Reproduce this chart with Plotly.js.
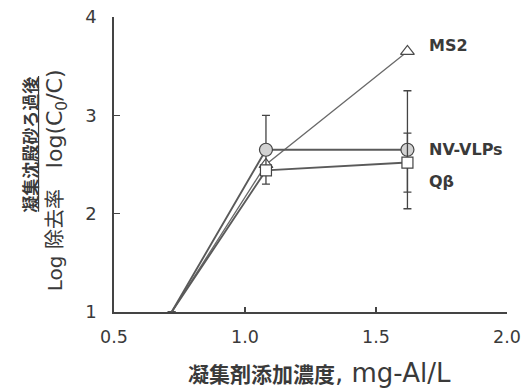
<!DOCTYPE html>
<html>
<head>
<meta charset="utf-8">
<script src="https://cdn.plot.ly/plotly-3.0.1.min.js"></script>
<style>html,body{margin:0;padding:0;background:#fff}</style>
</head>
<body>
<div id="chart" style="width:521px;height:390px"></div>
<script>
// Coagulant dose (mg-Al/L) and log removal after coagulation-sedimentation + sand filtration
const dose = [0.72, 1.08, 1.62];
const ms2 = [1.0, 2.50, 3.65];
const nvVLPs = [1.0, 2.65, 2.65];
const nvVLPsErr = [0, 0.35, 0.6];
const qBeta = [1.0, 2.44, 2.52];
const qBetaErr = [0, 0, 0.3];
const seriesNames = ['MS2', 'NV-VLPs', 'Qβ'];
const xTickVals = [0.5, 1.0, 1.5, 2.0];
const xTickText = ['0.5', '1.0', '1.5', '2.0'];
const yTickVals = [1, 2, 3, 4];
const yTickText = ['1', '2', '3', '4'];

const ink = '#3a3a3a';
const lineGrey = '#5a5a5a';
const latin = '"DejaVu Sans", Arial, sans-serif';
const cjk = '"Noto Sans CJK JP", "DejaVu Sans", sans-serif';
const latinSpan = (txt, size) =>
  '<span style="font-family:\'DejaVu Sans\'' + (size ? ';font-size:' + size + 'px' : '') + '">' + txt + '</span>';
// first point sits on the axis without a marker
const markerOpacity = dose.map((d, i) => (i === 0 ? 0 : 1));

const traces = [
  {
    x: dose, y: ms2, name: seriesNames[0], mode: 'lines+markers',
    line: {color: '#6a6a6a', width: 1.3},
    marker: {symbol: 'triangle-up', size: 12, color: '#ffffff', opacity: markerOpacity,
             line: {color: '#4a4a4a', width: 1.2}},
    cliponaxis: false
  },
  {
    x: dose, y: nvVLPs, name: seriesNames[1], mode: 'lines+markers',
    line: {color: lineGrey, width: 1.9},
    marker: {symbol: 'circle', size: 13, color: '#d2d2d2', opacity: markerOpacity,
             line: {color: '#444', width: 1.2}},
    error_y: {type: 'data', array: nvVLPsErr, visible: true, color: '#444', thickness: 1.3, width: 4},
    cliponaxis: false
  },
  {
    x: dose, y: qBeta, name: seriesNames[2], mode: 'lines+markers',
    line: {color: lineGrey, width: 1.9},
    marker: {symbol: 'square', size: 11, color: '#ffffff', opacity: markerOpacity,
             line: {color: '#444', width: 1.2}},
    error_y: {type: 'data', array: qBetaErr, visible: true, color: '#444', thickness: 1.3, width: 4},
    cliponaxis: false
  }
];

// series labels sit to the right of the last point of each series
const last = dose.length - 1;
const labelShift = [6, 0, -19];
const seriesValues = [ms2, nvVLPs, qBeta];
const seriesLabels = seriesNames.map((name, i) => ({
  x: dose[last], y: seriesValues[i][last], xref: 'x', yref: 'y',
  text: '<b>' + name + '</b>',
  showarrow: false, xanchor: 'left', yanchor: 'middle',
  xshift: 20, yshift: labelShift[i],
  font: {family: latin, size: 16, color: ink}
}));

const layout = {
  width: 521, height: 390,
  margin: {l: 114, r: 14, t: 17, b: 78, pad: 0},
  paper_bgcolor: '#fff', plot_bgcolor: '#fff',
  showlegend: false,
  xaxis: {
    range: [0.5, 2.0], tickvals: xTickVals, ticktext: xTickText,
    ticks: 'inside', ticklen: 5, tickwidth: 1.2, tickcolor: '#444',
    showline: true, linecolor: '#444', linewidth: 1.6,
    showgrid: false, zeroline: false, ticklabelstandoff: 8,
    ticklabeloverflow: 'allow',
    tickfont: {family: latin, size: 17.5, color: ink}
  },
  yaxis: {
    range: [1, 4], tickvals: yTickVals, ticktext: yTickText,
    ticks: 'inside', ticklen: 6, tickwidth: 1.2, tickcolor: '#444',
    showline: true, linecolor: '#444', linewidth: 1.6,
    showgrid: false, zeroline: false, ticklabelstandoff: 12,
    ticklabeloverflow: 'allow',
    tickfont: {family: latin, size: 18, color: ink}
  },
  // underline beneath the first line of the rotated y title
  shapes: [
    {type: 'line', xref: 'paper', yref: 'paper', x0: -0.192, x1: -0.192, y0: 0.34, y1: 0.80,
     line: {color: ink, width: 1.2}}
  ],
  annotations: seriesLabels.concat([
    {
      xref: 'paper', yref: 'paper', x: 0.524, y: -0.207,
      xanchor: 'center', yanchor: 'middle', showarrow: false,
      text: '<b>凝集剤添加濃度</b>' + latinSpan(', mg-Al/L', 26),
      font: {family: cjk, size: 21, color: ink}
    },
    {
      xref: 'paper', yref: 'paper', x: -0.217, y: 0.803,
      xanchor: 'center', yanchor: 'top', textangle: -90, showarrow: false,
      text: '<b>凝集沈殿砂ろ過後</b>',
      font: {family: cjk, size: 17, color: ink}
    },
    {
      xref: 'paper', yref: 'paper', x: -0.15, y: 0.83,
      xanchor: 'center', yanchor: 'top', textangle: -90, showarrow: false,
      text: latinSpan('Log ', 20) + '除去率' + latinSpan('   log(C<sub>0</sub>/C)', 22),
      font: {family: cjk, size: 20, color: ink}
    }
  ])
};

Plotly.newPlot('chart', traces, layout, {staticPlot: true, displayModeBar: false});
</script>
</body>
</html>
